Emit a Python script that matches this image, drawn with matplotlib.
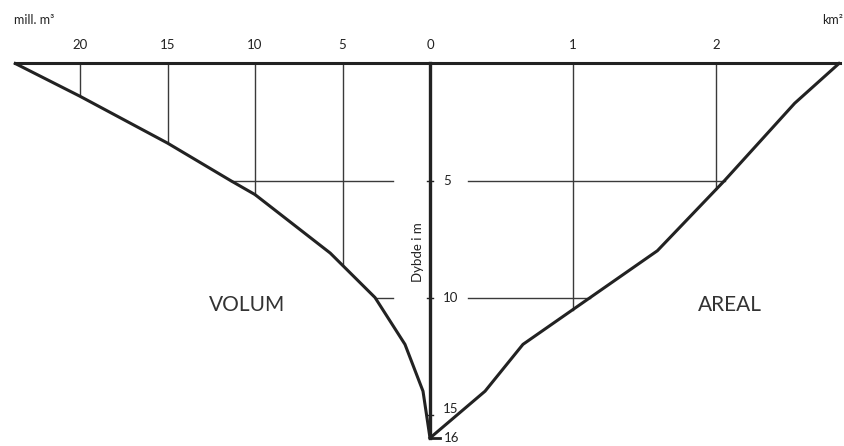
import numpy as np
import matplotlib.pyplot as plt

# dybde (m) og volum (mill. m3) / areal (km2) lest av figuren
vol_depth = [0, 1.4, 3.4, 5.0, 5.6, 8.1, 10.0, 12.0, 14.0, 16.0]
vol_value = [23.7, 20.0, 15.0, 11.4, 10.0, 5.7, 3.14, 1.43, 0.4, 0.0]

areal_depth = [0, 1.7, 5.0, 8.0, 12.0, 14.0, 16.0]
areal_value = [2.86, 2.55, 2.06, 1.59, 0.65, 0.385, 0.0]

vol_ticks = [20, 15, 10, 5, 0]
areal_ticks = [0, 1, 2]
depth_lines = [5, 10]
depth_labels = [5, 10, 15, 16]

W, H = 845, 446
fig = plt.figure(figsize=(W / 100, H / 100), dpi=100)
plt.rcParams['font.family'] = ['Lato', 'DejaVu Sans']

x0, xm, x1 = 15, 430, 840
ytop, ybot = 63.5, 438
ax_v = fig.add_axes([x0 / W, (H - ybot) / H, (xm - x0) / W, (ybot - ytop) / H])
ax_a = fig.add_axes([xm / W, (H - ybot) / H, (x1 - xm) / W, (ybot - ytop) / H])

ax_v.set_xlim((xm - x0) / 17.5, 0)
ax_a.set_xlim(0, (x1 - xm) / 143.0)

dark = '#222222'
grid = '#3a3a3a'

for ax in (ax_v, ax_a):
    ax.set_ylim(16, 0)
    ax.patch.set_alpha(0)
    for s in ('left', 'right', 'bottom'):
        ax.spines[s].set_visible(False)
    ax.spines['top'].set_linewidth(2.2)
    ax.spines['top'].set_color(dark)
    ax.xaxis.tick_top()
    ax.tick_params(axis='x', length=0, pad=9, labelsize=9.5, colors='#222222')
    ax.set_yticks([])

ax_v.set_xticks(vol_ticks)
ax_v.set_xticklabels([str(t) for t in vol_ticks])
ax_a.set_xticks(areal_ticks[1:])
ax_a.set_xticklabels([str(t) for t in areal_ticks[1:]])

# kurver
ax_v.plot(vol_value, vol_depth, color=dark, lw=2.2, clip_on=False, zorder=3)
ax_a.plot(areal_value, areal_depth, color=dark, lw=2.2, clip_on=False, zorder=3)

# loddrette hjelpelinjer ned til kurven
for v in vol_ticks[:-1]:
    d = np.interp(v, vol_value[::-1], vol_depth[::-1])
    ax_v.plot([v, v], [0, d], color=grid, lw=1.0, zorder=2)
for a in areal_ticks[1:]:
    d = np.interp(a, areal_value[::-1], areal_depth[::-1])
    ax_a.plot([a, a], [0, d], color=grid, lw=1.0, zorder=2)

# vannrette hjelpelinjer
for d in depth_lines:
    v = np.interp(d, vol_depth, vol_value)
    ax_v.plot([v, 2.1], [d, d], color=grid, lw=1.0, zorder=2)
    a = np.interp(d, areal_depth, areal_value)
    ax_a.plot([0.266, a], [d, d], color=grid, lw=1.0, zorder=2)

# dybdeakse
ax_a.plot([0, 0], [0, 16], color=dark, lw=2.4, clip_on=False, zorder=4)
for d in depth_labels[:-1]:
    ax_a.plot([-0.02, 0.02], [d, d], color=dark, lw=1.0, clip_on=False, zorder=4)
ax_a.plot([0, 0.07], [16, 16], color=dark, lw=2.0, clip_on=False, zorder=4)
for d in depth_labels:
    ax_a.text(0.09 if d < 16 else 0.095, d, str(d), fontsize=9.5, color=dark,
              va='center' if d != 15 else 'bottom', ha='left')

ax_v.text(0.7, 8.05, 'Dybde i m', rotation=90, fontsize=9.5, color=dark,
          ha='center', va='center')

ax_v.text(10.46, 10.3, 'VOLUM', fontsize=15, color='#333333', ha='center', va='center')
ax_a.text(2.1, 10.3, 'AREAL', fontsize=15, color='#333333', ha='center', va='center')

fig.text(14 / W, 1 - 20 / H, 'mill. m³', fontsize=9, color=dark, va='center', ha='left')
fig.text(843 / W, 1 - 20 / H, 'km²', fontsize=9, color=dark, va='center', ha='right')

plt.savefig('out.png', dpi=100)
